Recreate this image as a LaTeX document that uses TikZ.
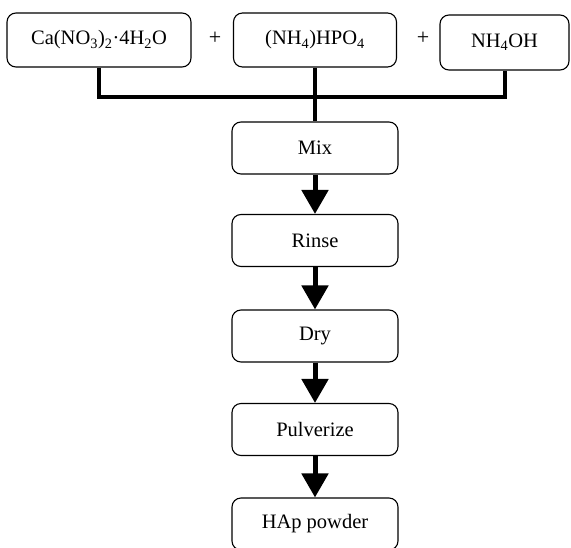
\documentclass[tikz,border=0pt]{standalone}
\usepackage{fontspec}
\setmainfont{Liberation Serif}
\usetikzlibrary{arrows.meta}

\begin{document}
\begin{tikzpicture}[
    x=1pt, y=-1pt,
    box/.style={draw, rounded corners=9pt, line width=1.1pt, minimum height=52pt, inner sep=0pt, font=\fontsize{20.5}{22}\selectfont},
    stagebox/.style={box, minimum width=166pt},
    plus/.style={draw=none, inner sep=0pt, font=\fontsize{22}{24}\selectfont},
    bus/.style={line width=4pt},
    flow/.style={line width=5pt, -{Triangle[width=26pt,length=24pt]}}
]
\useasboundingbox (0,0) rectangle (571,547);

% Reagents
\node[box, minimum width=184pt, minimum height=54pt] (calcium) at (99,40) {Ca(NO\textsubscript{3})\textsubscript{2}·4H\textsubscript{2}O};
\node[box, minimum width=163pt, minimum height=54pt] (phosphate) at (315,40) {(NH\textsubscript{4})HPO\textsubscript{4}};
\node[box, minimum width=129pt, minimum height=55pt] (ammonia) at (504.5,42.5) {NH\textsubscript{4}OH};

% Plus signs
\node[plus] (plusa) at (215,38) {+};
\node[plus] (plusb) at (423,38) {+};

% Process steps
\node[stagebox] (mix) at (315,148) {Mix};
\node[stagebox] (rinse) at (315,240.5) {Rinse};
\node[stagebox] (dry) at (315,336) {Dry};
\node[stagebox] (pulverize) at (315,429.5) {Pulverize};
\node[stagebox] (powder) at (315,524) {HAp powder};

% Connections
\draw[bus] (calcium.south) -- ++(0,29) -| (ammonia.south);
\draw[bus] (phosphate.south) -- (mix.north);

\draw[flow] (mix) -- (rinse);
\draw[flow] (rinse) -- (dry);
\draw[flow] (dry) -- (pulverize);
\draw[flow] (pulverize) -- (powder);

\end{tikzpicture}
\end{document}
